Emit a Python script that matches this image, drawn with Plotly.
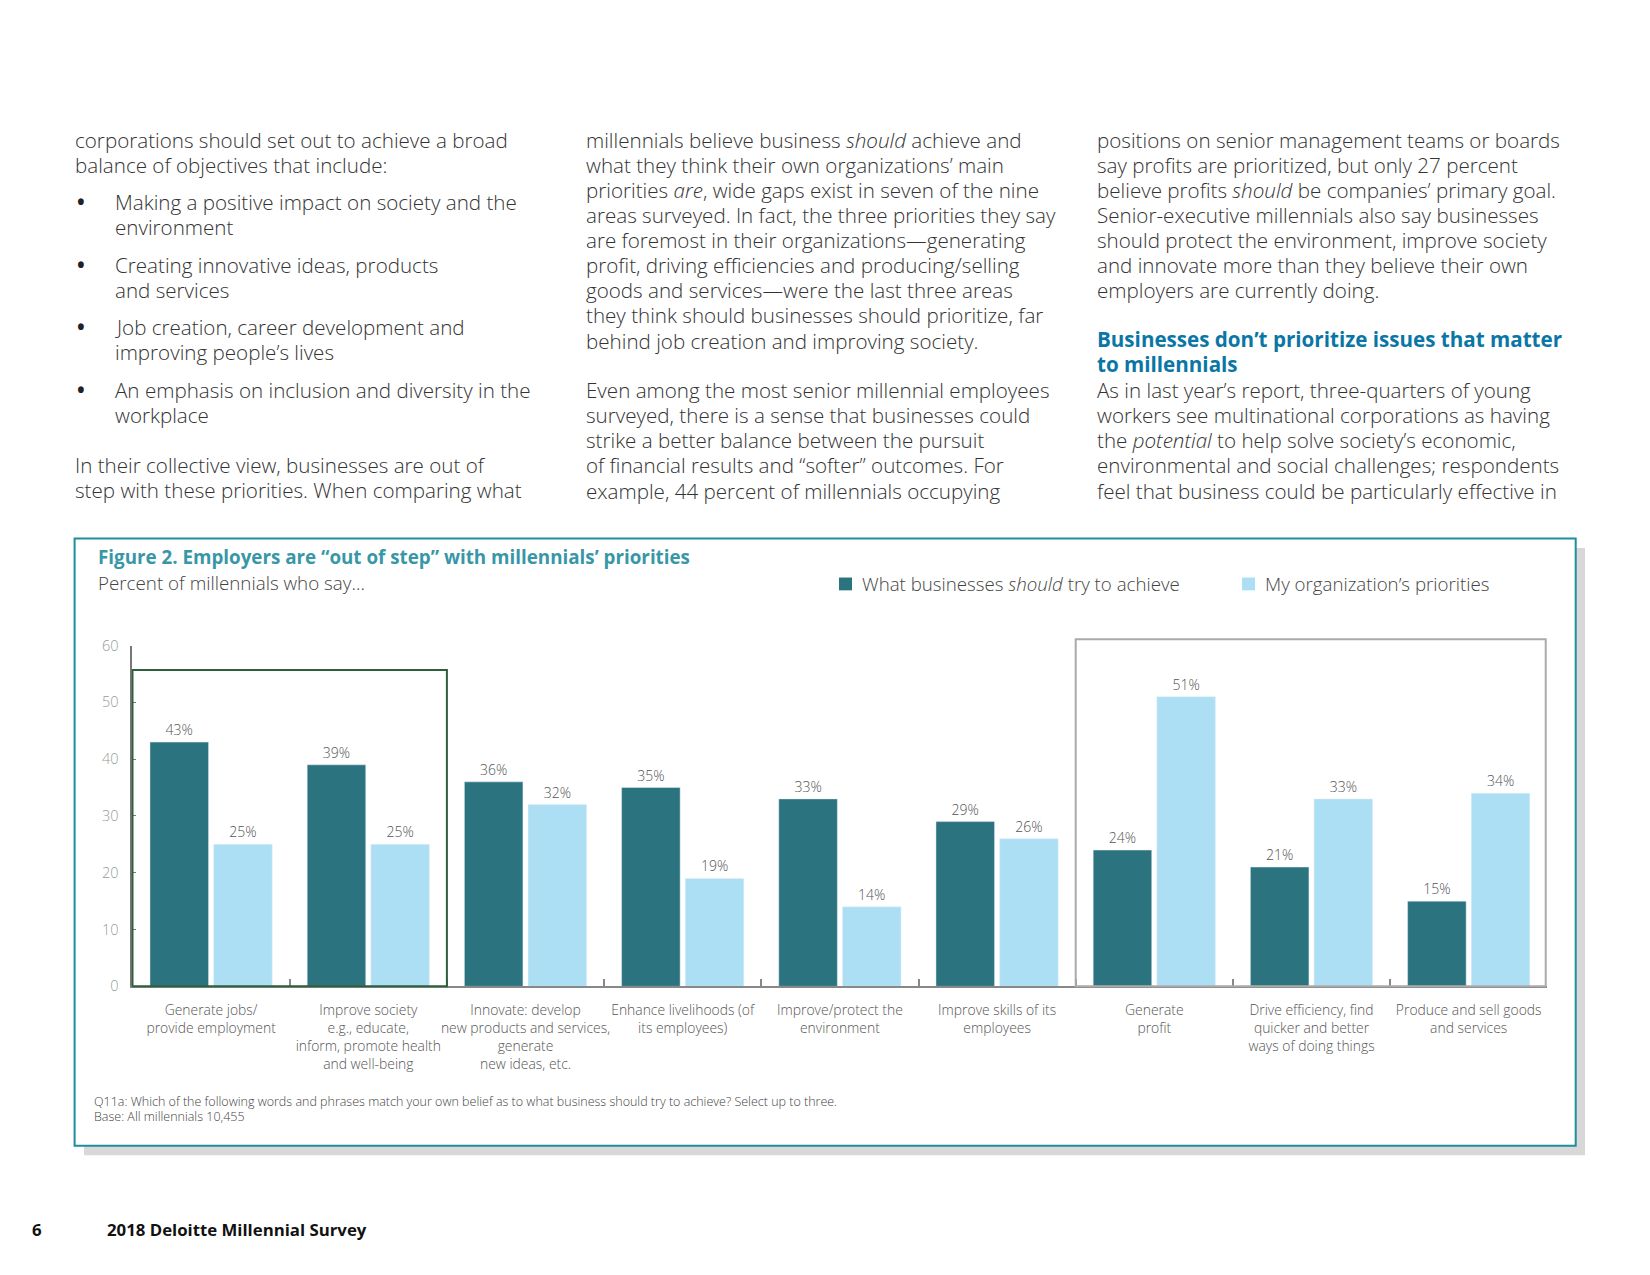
import plotly.graph_objects as go

W, H = 1650, 1275

# ---------------- data ----------------
categories = [
    "Generate jobs/<br>provide employment",
    "Improve society<br>e.g., educate,<br>inform, promote health<br>and well-being",
    "Innovate: develop<br>new products and services,<br>generate<br>new ideas, etc.",
    "Enhance livelihoods (of<br>its employees)",
    "Improve/protect the<br>environment",
    "Improve skills of its<br>employees",
    "Generate<br>profit",
    "Drive efficiency, find<br>quicker and better<br>ways of doing things",
    "Produce and sell goods<br>and services",
]
should_vals = [43, 39, 36, 35, 33, 29, 24, 21, 15]
org_vals = [25, 25, 32, 19, 14, 26, 51, 33, 34]
series_names = ["What businesses should try to achieve", "My organization’s priorities"]
y_ticks = [0, 10, 20, 30, 40, 50, 60]

fig_title = "Figure 2. Employers are “out of step” with millennials’ priorities"
fig_subtitle = "Percent of millennials who say…"
note_lines = [
    "Q11a: Which of the following words and phrases match your own belief as to what business should try to achieve? Select up to three.",
    "Base: All millennials 10,455",
]

col1_lines = [
    "corporations should set out to achieve a broad",
    "balance of objectives that include:",
]
col1_bullets = [
    ["Making a positive impact on society and the", "environment"],
    ["Creating innovative ideas, products", "and services"],
    ["Job creation, career development and", "improving people’s lives"],
    ["An emphasis on inclusion and diversity in the", "workplace"],
]
col1_tail = [
    "In their collective view, businesses are out of",
    "step with these priorities. When comparing what",
]
col2_a = [
    "millennials believe business <i>should</i> achieve and",
    "what they think their own organizations’ main",
    "priorities <i>are</i>, wide gaps exist in seven of the nine",
    "areas surveyed. In fact, the three priorities they say",
    "are foremost in their organizations—generating",
    "profit, driving efficiencies and producing/selling",
    "goods and services—were the last three areas",
    "they think should businesses should prioritize, far",
    "behind job creation and improving society.",
]
col2_b = [
    "Even among the most senior millennial employees",
    "surveyed, there is a sense that businesses could",
    "strike a better balance between the pursuit",
    "of financial results and “softer” outcomes. For",
    "example, 44 percent of millennials occupying",
]
col3_a = [
    "positions on senior management teams or boards",
    "say profits are prioritized, but only 27 percent",
    "believe profits <i>should</i> be companies’ primary goal.",
    "Senior-executive millennials also say businesses",
    "should protect the environment, improve society",
    "and innovate more than they believe their own",
    "employers are currently doing.",
]
col3_head = ["Businesses don’t prioritize issues that matter", "to millennials"]
col3_b = [
    "As in last year’s report, three-quarters of young",
    "workers see multinational corporations as having",
    "the <i>potential</i> to help solve society’s economic,",
    "environmental and social challenges; respondents",
    "feel that business could be particularly effective in",
]

# ---------------- styling ----------------
DARK = "#2b737e"
LIGHT = "#addff4"
BODY = "#333333"
FONT = "Open Sans"


def px(x):
    return x / W


def py(y):
    return 1 - y / H


annotations = []


def txt(x, y, s, size, color=BODY, weight=300, xanchor="left"):
    annotations.append(dict(
        x=px(x), y=py(y), xref="paper", yref="paper", text=s, showarrow=False,
        xanchor=xanchor, yanchor="middle", align="left",
        font=dict(family=FONT, size=size, color=color, weight=weight),
    ))


BODY_SIZE = 20.6
LS = 25.5

# column 1
for i, s in enumerate(col1_lines):
    txt(65, 123.4 + i * LS, s, BODY_SIZE)
bullet_y = [186.4, 250.5, 313.6, 377.7]
for by, lines in zip(bullet_y, col1_bullets):
    txt(67, by, "•", BODY_SIZE, color="#222222", weight=700)
    for j, s in enumerate(lines):
        txt(105, by + j * LS, s, BODY_SIZE)
for i, s in enumerate(col1_tail):
    txt(65, 453.5 + i * LS, s, BODY_SIZE)

# column 2
for i, s in enumerate(col2_a):
    txt(576, 123.4 + i * LS, s, BODY_SIZE)
for i, s in enumerate(col2_b):
    txt(576, 377.7 + i * LS, s, BODY_SIZE)

# column 3
for i, s in enumerate(col3_a):
    txt(1086.5, 123.4 + i * LS, s, BODY_SIZE)
for i, s in enumerate(col3_head):
    txt(1086.5, 326.0 + i * LS, s, BODY_SIZE, color="#0a76a6", weight=700)
for i, s in enumerate(col3_b):
    txt(1086.5, 377.7 + i * LS, s, BODY_SIZE)

# chart header
txt(87.5, 547.5, fig_title, 18.8, color="#3897a6", weight=700)
txt(87.5, 573.2, fig_subtitle, 18.8, color="#444444", weight=300)

# legend (manual)
legend_x = [831, 1234]
legend_colors = [DARK, LIGHT]
legend_texts = ["What businesses <i>should</i> try to achieve", series_names[1]]
shapes = []
for lx, lc, lt in zip(legend_x, legend_colors, legend_texts):
    shapes.append(dict(type="rect", xref="paper", yref="paper",
                       x0=px(lx), x1=px(lx + 13), y0=py(581), y1=py(568),
                       fillcolor=lc, line=dict(width=0)))
    txt(lx + 21, 574.3, lt, 18.7, color="#444444", weight=300)

# notes
for i, s in enumerate(note_lines):
    txt(83.5, 1100 + i * 15, s, 12.5, color="#444444", weight=300)

# footer
txt(21.5, 1230.3, "6", 16.8, color="#111111", weight=700)
txt(96.5, 1230.3, "2018 Deloitte Millennial Survey", 16.8, color="#111111", weight=700)

# chart frame: shadow + teal box
shapes.insert(0, dict(type="rect", xref="paper", yref="paper", layer="below",
                      x0=px(76), x1=px(1577), y0=py(1154.4), y1=py(538),
                      fillcolor="#d8d8d8", line=dict(width=0)))
shapes.insert(1, dict(type="rect", xref="paper", yref="paper", layer="below",
                      x0=px(66.6), x1=px(1567.7), y0=py(1144.8), y1=py(528.3),
                      fillcolor="white", line=dict(color="#1d8e9b", width=2)))

# plot area geometry
X0, X1 = 123.5, 1539.3
Y_BOTTOM, Y_TOP = 983, 637
y_dom = [py(Y_BOTTOM), py(Y_TOP)]


def ypaper(v):
    return y_dom[0] + v / 60 * (y_dom[1] - y_dom[0])


# highlight boxes (category ranges)
highlight_green = (0, 1)
highlight_grey = (6, 8)
shapes.append(dict(type="rect", xref="x", yref="paper",
                   x0=highlight_green[0] - 0.5, x1=highlight_green[1] + 0.5,
                   y0=ypaper(0), y1=ypaper(55.7),
                   line=dict(color="#2e5f3c", width=2), fillcolor="rgba(0,0,0,0)"))
shapes.append(dict(type="rect", xref="x", yref="paper",
                   x0=highlight_grey[0] - 0.5, x1=highlight_grey[1] + 0.49,
                   y0=ypaper(0), y1=ypaper(61.1),
                   line=dict(color="#aaaaaa", width=2), fillcolor="rgba(0,0,0,0)"))

fig = go.Figure()
fig.add_trace(go.Bar(
    x=categories, y=should_vals, name=series_names[0], marker_color=DARK,
    text=[f"{v}%" for v in should_vals], textposition="outside",
    textfont=dict(family=FONT, size=14, color="#555555", weight=300),
    cliponaxis=False,
))
fig.add_trace(go.Bar(
    x=categories, y=org_vals, name=series_names[1], marker_color=LIGHT,
    text=[f"{v}%" for v in org_vals], textposition="outside",
    textfont=dict(family=FONT, size=14, color="#555555", weight=300),
    cliponaxis=False,
))

fig.update_layout(
    width=W, height=H,
    margin=dict(l=0, r=0, t=0, b=0),
    paper_bgcolor="white", plot_bgcolor="rgba(0,0,0,0)",
    barmode="group", bargap=0.19, bargroupgap=0.08,
    showlegend=False,
    font=dict(family=FONT, color="#555555"),
    annotations=annotations,
    shapes=shapes,
    xaxis=dict(
        domain=[px(X0), px(X1)], type="category",
        showline=True, linecolor="#888888", linewidth=2,
        ticks="inside", tickson="boundaries", ticklen=7, tickwidth=2, tickcolor="#888888",
        tickfont=dict(family=FONT, size=13.9, color="#555555", weight=300),
        ticklabelstandoff=10, showgrid=False, zeroline=False,
        tickangle=0,
    ),
    yaxis=dict(
        domain=y_dom, range=[0, 60], tickvals=y_ticks,
        showline=True, linecolor="#777777", linewidth=2,
        ticks="inside", ticklen=4, tickwidth=1, tickcolor="#777777",
        tickfont=dict(family=FONT, size=14.5, color="#999999", weight=300),
        ticklabelstandoff=8, showgrid=False, zeroline=False,
    ),
)

fig.write_html("out.html")
